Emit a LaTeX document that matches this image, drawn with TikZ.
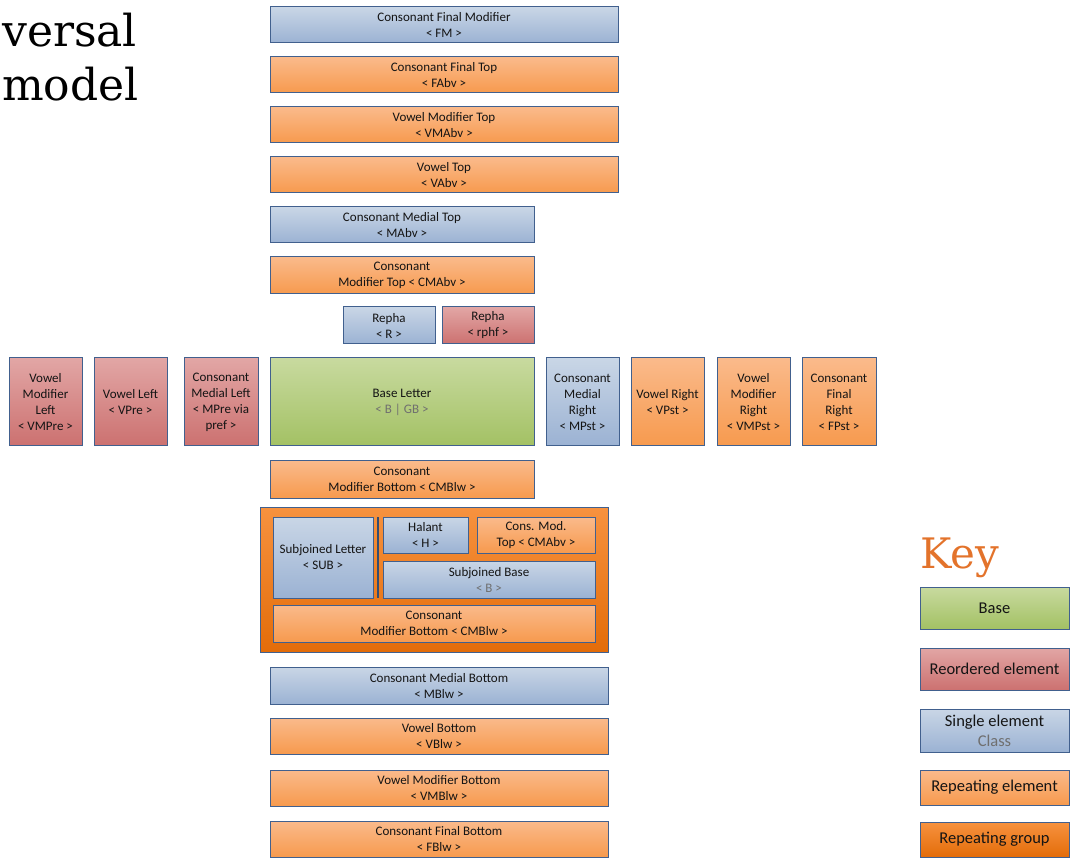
\documentclass[tikz,border=0pt]{standalone}
\usepackage{fontspec}
\setmainfont{Carlito}
\newfontfamily\titlefont{DejaVu Serif}
\definecolor{edge}{HTML}{41608E}
\definecolor{bluetop}{HTML}{C9D6E6}
\definecolor{bluebot}{HTML}{9BB2D3}
\definecolor{ortop}{HTML}{FABA8B}
\definecolor{orbot}{HTML}{F79A4E}
\definecolor{redtop}{HTML}{E2A6A5}
\definecolor{redbot}{HTML}{CC7170}
\definecolor{grtop}{HTML}{C8DA9F}
\definecolor{grbot}{HTML}{A3C164}
\definecolor{grptop}{HTML}{F7923F}
\definecolor{grpbot}{HTML}{E36C09}
\definecolor{txt}{HTML}{141414}
\definecolor{cls}{HTML}{6F6F6F}
\definecolor{keyor}{HTML}{E3732B}
\tikzset{
  blk/.style={draw=edge, line width=1pt, inner sep=0pt, align=center, text=txt,
    font=\fontsize{13}{16}\selectfont},
  blue/.style={blk, top color=bluetop, bottom color=bluebot},
  orng/.style={blk, top color=ortop, bottom color=orbot},
  rd/.style={blk, top color=redtop, bottom color=redbot},
  grn/.style={blk, top color=grtop, bottom color=grbot},
  grp/.style={blk, top color=grptop, bottom color=grpbot},
  keyfont/.style={font=\fontsize{16.5}{20}\selectfont},
  title/.style={anchor=base west, font=\titlefont\fontsize{44}{52}\selectfont, inner sep=0pt},
}
\newcommand\mybox[7]{\node[#6, minimum width={#4-#2}, minimum height={#5-#3}] (#1) at ({(#2+#4)/2},{(#3+#5)/2}) {#7};}
\begin{document}
\begin{tikzpicture}[x=1pt,y=-1pt]
\useasboundingbox (0,0) rectangle (1074,858);
% title
\node[title] (t1) at (2,47) {versal};
\node[title] (t2) at (2,101) {model};
% top column
\mybox{fm}{270}{7}{618}{43}{blue}{Consonant Final Modifier\\< FM >}
\mybox{fabv}{270}{57}{618}{93}{orng}{Consonant Final Top\\< FAbv >}
\mybox{vmabv}{270}{107}{618}{143}{orng}{Vowel Modifier Top\\< VMAbv >}
\mybox{vabv}{270}{157}{618}{193}{orng}{Vowel Top\\< VAbv >}
\mybox{mabv}{270}{207}{534}{243}{blue}{Consonant Medial Top\\< MAbv >}
\mybox{cmabv}{270}{257}{534}{294}{orng}{Consonant\\Modifier Top < CMAbv >}
\mybox{r}{343}{307}{435}{344}{blue}{Repha\\< R >}
\mybox{rphf}{442}{307}{534}{344}{rd}{Repha\\< rphf >}
% base row
\mybox{base}{270}{358}{534}{446}{grn}{Base Letter\\\textcolor{cls}{< B | GB >}}
\mybox{vmpre}{9}{358}{82}{446}{rd}{Vowel\\Modifier\\Left\\< VMPre >}
\mybox{vpre}{94}{358}{167}{446}{rd}{Vowel Left\\< VPre >}
\mybox{mpre}{184}{358}{258}{446}{rd}{Consonant\\Medial Left\\< MPre via\\pref >}
\mybox{mpst}{546}{358}{619}{446}{blue}{Consonant\\Medial\\Right\\< MPst >}
\mybox{vpst}{631}{358}{704}{446}{orng}{Vowel Right\\< VPst >}
\mybox{vmpst}{717}{358}{790}{446}{orng}{Vowel\\Modifier\\Right\\< VMPst >}
\mybox{fpst}{802}{358}{876}{446}{orng}{Consonant\\Final\\Right\\< FPst >}
% below
\mybox{cmblw}{270}{461}{534}{498}{orng}{Consonant\\Modifier Bottom < CMBlw >}
\mybox{group}{260}{507}{608}{652}{grp}{}
\mybox{sub}{273}{517}{373}{598}{blue}{Subjoined Letter\\< SUB >}
\coordinate (sepa) at (378,517);
\coordinate (sepb) at (378,598);
\draw[edge!80!black, line width=1.3pt] (sepa) -- (sepb);
\mybox{halant}{383}{517}{468}{553}{blue}{Halant\\< H >}
\mybox{cmabv2}{477}{517}{595}{553}{orng}{Cons. Mod.\\Top < CMAbv >}
\mybox{subbase}{383}{561}{595}{598}{blue}{Subjoined Base\\\textcolor{cls}{< B >}}
\mybox{cmblw2}{273}{605}{595}{642}{orng}{Consonant\\Modifier Bottom < CMBlw >}
\mybox{mblw}{270}{667}{608}{704}{blue}{Consonant Medial Bottom\\< MBlw >}
\mybox{vblw}{270}{718}{608}{754}{orng}{Vowel Bottom\\< VBlw >}
\mybox{vmblw}{270}{770}{608}{806}{orng}{Vowel Modifier Bottom\\< VMBlw >}
\mybox{fblw}{270}{821}{608}{857}{orng}{Consonant Final Bottom\\< FBlw >}
% key
\node[anchor=base west, font=\titlefont\fontsize{42}{48}\selectfont, text=keyor, inner sep=0pt] (key) at (920,568) {Key};
\mybox{kbase}{920}{587}{1069}{629}{grn,keyfont}{Base}
\mybox{kreo}{920}{648}{1069}{690}{rd,keyfont}{Reordered element}
\mybox{ksing}{920}{709}{1069}{752}{blue,keyfont}{Single element\\\textcolor{cls}{Class}}
\mybox{krep}{920}{770}{1069}{805}{orng,keyfont}{Repeating element}
\mybox{kgrp}{920}{822}{1069}{857}{grp,keyfont}{Repeating group}
\end{tikzpicture}
\end{document}
